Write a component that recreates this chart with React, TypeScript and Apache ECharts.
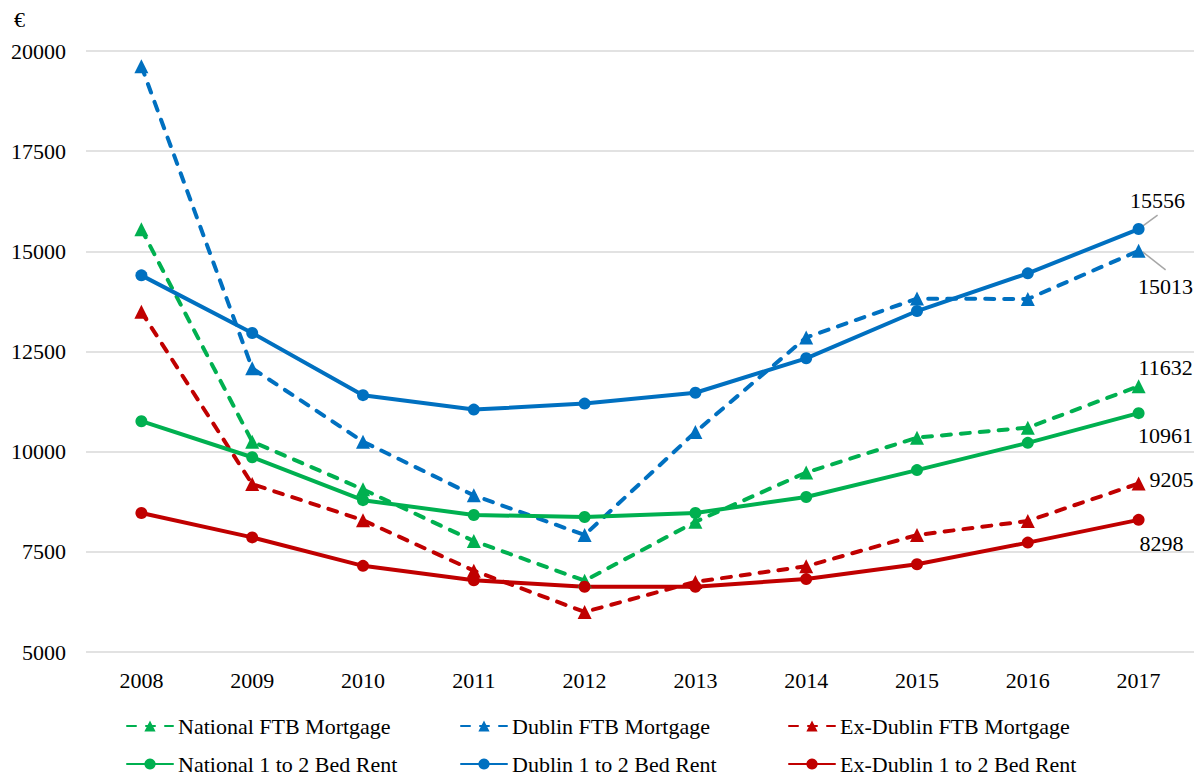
import React, { useEffect, useRef } from "react";
import * as echarts from "echarts";

const years = ["2008", "2009", "2010", "2011", "2012", "2013", "2014", "2015", "2016", "2017"];
const nationalFTB = [15550, 10250, 9060, 7770, 6780, 8250, 9480, 10350, 10600, 11632];
const dublinFTB = [19620, 12080, 10250, 8910, 7920, 10490, 12850, 13820, 13810, 15013];
const exDublinFTB = [13490, 9190, 8290, 7030, 6000, 6750, 7140, 7920, 8270, 9205];
const nationalRent = [10760, 9860, 8790, 8420, 8370, 8470, 8870, 9540, 10220, 10961];
const dublinRent = [14400, 12960, 11410, 11050, 11200, 11470, 12330, 13510, 14450, 15556];
const exDublinRent = [8470, 7860, 7150, 6790, 6630, 6630, 6820, 7190, 7730, 8298];

const GREEN = "#00B050";
const BLUE = "#0070C0";
const RED = "#C00000";
const FONT = "'Liberation Serif', 'Times New Roman', serif";
const FS = 22;

type LabelCfg = { dx: number; dy: number };

function makeSeries(name: string, values: number[], color: string, dashed: boolean, lab: LabelCfg) {
  const last = values.length - 1;
  const data = values.map((v, i) =>
    i === last
      ? {
          value: v,
          label: {
            show: true,
            position: "inside",
            offset: [lab.dx, lab.dy],
            align: "center",
            verticalAlign: "middle",
            color: "#000",
            fontSize: FS,
            fontFamily: FONT,
            formatter: "{c}",
          },
        }
      : v
  );
  return {
    name,
    type: "line",
    data,
    symbol: dashed ? "triangle" : "circle",
    symbolSize: dashed ? 14 : 12,
    itemStyle: { color, borderWidth: 0 },
    lineStyle: {
      color,
      width: 4,
      type: dashed ? [9, 10] : "solid",
      cap: "round",
      join: "round",
    },
    label: { show: false },
    emphasis: { disabled: true },
  };
}

export default function App() {
  const ref = useRef<HTMLDivElement>(null);
  useEffect(() => {
    document.body.style.margin = "0";
    const chart = echarts.init(ref.current!, undefined, { renderer: "svg" });
    const legendBase = {
      itemWidth: 46,
      itemHeight: 14,
      textStyle: { fontSize: FS, fontFamily: FONT, color: "#000" },
      orient: "horizontal",
      padding: 0,
    };
    const cols = [126, 460, 788];
    const rows = [715, 753];
    const names = [
      "National FTB Mortgage",
      "Dublin FTB Mortgage",
      "Ex-Dublin FTB Mortgage",
      "National 1 to 2 Bed Rent",
      "Dublin 1 to 2 Bed Rent",
      "Ex-Dublin 1 to 2 Bed Rent",
    ];
    const legends = names.map((n, i) => ({
      ...legendBase,
      data: [n],
      left: cols[i % 3],
      top: rows[Math.floor(i / 3)],
    }));
    chart.setOption({
      animation: false,
      backgroundColor: "#fff",
      textStyle: { fontFamily: FONT },
      legend: legends,
      grid: { left: 86, right: 9, top: 51, bottom: 124, containLabel: false },
      xAxis: {
        type: "category",
        data: years,
        boundaryGap: true,
        axisLine: { show: false },
        axisTick: { show: false },
        axisLabel: { fontSize: FS, fontFamily: FONT, color: "#000", margin: 17 },
      },
      yAxis: {
        type: "value",
        min: 5000,
        max: 20000,
        interval: 2500,
        axisLine: { show: false },
        axisTick: { show: false },
        axisLabel: {
          fontSize: FS,
          fontFamily: FONT,
          color: "#000",
          margin: 20,
          formatter: (v: number) => String(v),
        },
        splitLine: { lineStyle: { color: "#d9d9d9", width: 1.5 } },
      },
      series: [
        makeSeries(names[0], nationalFTB, GREEN, true, { dx: 27, dy: -19 }),
        makeSeries(names[1], dublinFTB, BLUE, true, { dx: 27, dy: 36 }),
        makeSeries(names[2], exDublinFTB, RED, true, { dx: 33, dy: -4 }),
        makeSeries(names[3], nationalRent, GREEN, false, { dx: 27, dy: 22 }),
        makeSeries(names[4], dublinRent, BLUE, false, { dx: 19, dy: -29 }),
        makeSeries(names[5], exDublinRent, RED, false, { dx: 23, dy: 24 }),
      ],
    });
    const last = years.length - 1;
    const pA = chart.convertToPixel({ gridIndex: 0 }, [years[last], dublinRent[last]]) as number[];
    const pB = chart.convertToPixel({ gridIndex: 0 }, [years[last], dublinFTB[last]]) as number[];
    const leader = { stroke: "#a6a6a6", lineWidth: 1.5 };
    chart.setOption({
      graphic: [
        {
          type: "text",
          left: 14,
          top: 8,
          style: { text: "€", fontSize: FS, fontFamily: FONT, fill: "#000" },
        },
        {
          type: "line",
          shape: { x1: pA[0] + 4, y1: pA[1] - 3, x2: pA[0] + 19, y2: pA[1] - 14 },
          style: leader,
          z: 1,
        },
        {
          type: "line",
          shape: { x1: pB[0] + 4, y1: pB[1] + 1, x2: pB[0] + 27, y2: pB[1] + 19 },
          style: leader,
          z: 1,
        },
      ],
    });
    return () => chart.dispose();
  }, []);
  return <div ref={ref} style={{ width: 1203, height: 776 }} />;
}
